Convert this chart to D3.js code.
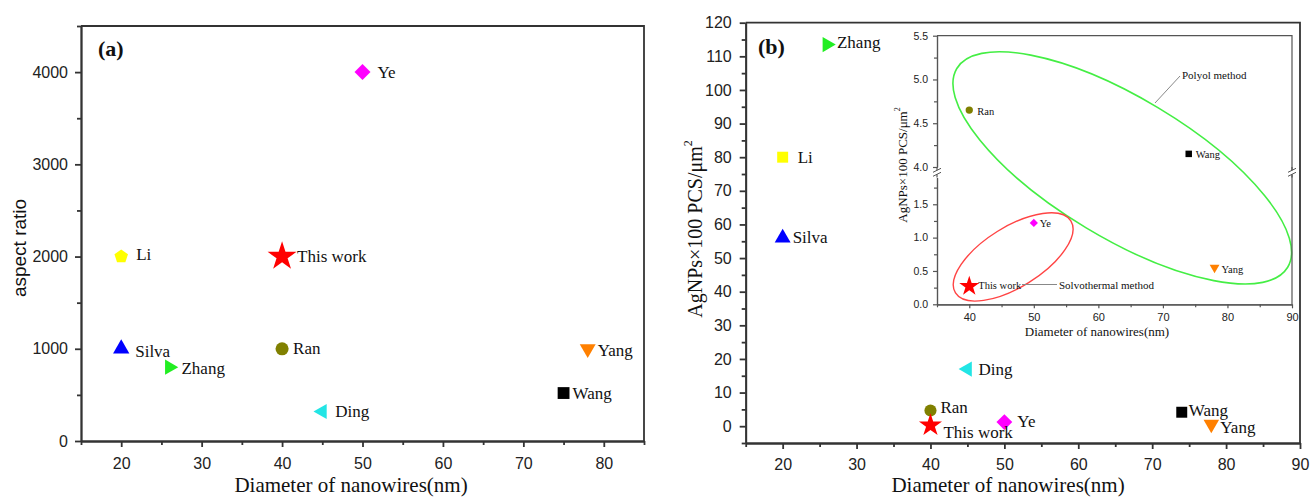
<!DOCTYPE html>
<html>
<head>
<meta charset="utf-8">
<script src="https://cdn.jsdelivr.net/npm/d3@7"></script>
<style>
  body { margin: 0; background: #fff; }
  svg { display: block; }
  .serif { font-family: "Liberation Serif", "Times New Roman", serif; fill: #111; }
  .sans { font-family: "Liberation Sans", Arial, sans-serif; fill: #111; }
</style>
</head>
<body>
<div id="chart"></div>
<script>
// ---- data ----
var names = ["Li", "Silva", "Zhang", "Ran", "Ye", "Wang", "Yang", "Ding", "This work"];

// (a) aspect ratio vs diameter
var diameterA = [20, 20, 26, 40, 50, 75, 78, 45, 40];
var aspectRatio = [2000, 1000, 800, 1000, 4000, 520, 1000, 320, 2000];

// (b) AgNPs density vs diameter
var diameterB = [20, 20, 26, 40, 50, 74, 78, 45, 40];
var density = [80, 56, 113.5, 4.65, 1.22, 4.15, 0.55, 17, 0.27];

// inset of (b)
var insetNames = ["Ran", "Wang", "Ye", "Yang", "This work"];
var insetDiameter = [40, 74, 50, 78, 40];
var insetDensity = [4.65, 4.15, 1.22, 0.55, 0.27];

var xTicksA = [20, 30, 40, 50, 60, 70, 80];
var xMinorA = [15, 25, 35, 45, 55, 65, 75, 85];
var yTicksA = [0, 1000, 2000, 3000, 4000];
var yMinorA = [500, 1500, 2500, 3500, 4500];

var xTicksB = [20, 30, 40, 50, 60, 70, 80, 90];
var xMinorB = [15, 25, 35, 45, 55, 65, 75, 85];
var yTicksB = [0, 10, 20, 30, 40, 50, 60, 70, 80, 90, 100, 110, 120];
var yMinorB = [-5, 5, 15, 25, 35, 45, 55, 65, 75, 85, 95, 105, 115];

var xTicksIn = [40, 50, 60, 70, 80, 90];
var xMinorIn = [35, 45, 55, 65, 75, 85];
var yTicksLow = [0, 0.5, 1.0, 1.5];
var yMinorLow = [0.25, 0.75, 1.25, 1.75];
var yTicksUp = [4.0, 4.5, 5.0, 5.5];
var yMinorUp = [4.25, 4.75, 5.25];

// ---- styling ----
var markerColor = {"Li": "#ffff00", "Silva": "#0000ff", "Zhang": "#22ee22", "Ran": "#808000",
  "Ye": "#ff00ff", "Wang": "#000000", "Yang": "#ff8000", "Ding": "#22e5e5", "This work": "#ff0000"};
var shapeA = {"Li": "pentagon", "Silva": "up", "Zhang": "right", "Ran": "circle", "Ye": "diamond",
  "Wang": "square", "Yang": "down", "Ding": "left", "This work": "star"};
var shapeB = Object.assign({}, shapeA, {"Li": "square"});

var sizeA = {pentagon: 120, up: 115, right: 100, down: 110, left: 100, circle: 135, square: 140, diamond: 128, star: 260};
var sizeB = {pentagon: 120, up: 110, right: 100, down: 105, left: 100, circle: 115, square: 120, diamond: 125, star: 165};
var sizeIn = {circle: 42, square: 42, diamond: 34, down: 42, star: 125};

// label offsets [dx, dy] from the marker
var labelPosA = {"Li": [15, -2], "Silva": [14, 3], "Zhang": [12, 1], "Ran": [11, 0], "Ye": [15, 0],
  "Wang": [9, 0], "Yang": [10, 2], "Ding": [13, 0], "This work": [15, 0]};
var labelPosB = {"Li": [15, 0], "Silva": [10, 0], "Zhang": [10, -2], "Ran": [10, -3], "Ye": [13, -1],
  "Wang": [7, -2], "Yang": [9, 3], "Ding": [11, 0], "This work": [13, 7]};
var labelPosIn = {"Ran": [8, 1], "Wang": [7, 1], "Ye": [6, 1], "Yang": [7, 2], "This work": [9, -1]};

var svg = d3.select("#chart").append("svg").attr("width", 1312).attr("height", 497);

var deg = Math.PI / 180;
function polygon(n, start) {
  return {draw: function(ctx, size) {
    var r = Math.sqrt(2 * size / (n * Math.sin(2 * Math.PI / n)));
    for (var i = 0; i < n; i++) {
      var a = start + i * 2 * Math.PI / n;
      if (i === 0) ctx.moveTo(r * Math.cos(a), r * Math.sin(a));
      else ctx.lineTo(r * Math.cos(a), r * Math.sin(a));
    }
    ctx.closePath();
  }};
}
var shapes = {
  up: polygon(3, -90 * deg), right: polygon(3, 0), down: polygon(3, 90 * deg), left: polygon(3, 180 * deg),
  square: polygon(4, -45 * deg), diamond: polygon(4, -90 * deg), pentagon: polygon(5, -90 * deg),
  circle: d3.symbolCircle, star: d3.symbolStar
};

function styleAxis(g, fontSize, width, color) {
  g.attr("color", color).attr("font-family", "Liberation Sans, Arial, sans-serif").attr("font-size", fontSize);
  g.selectAll("path, line").attr("stroke-width", width);
  g.selectAll("text").attr("fill", "#222");
}

function drawPoints(g, xs, ys, labels, x, y, shapeMap, sizeMap, pos, fontSize) {
  var pts = labels.map(function(n, i) { return {name: n, x: xs[i], y: ys[i]}; });
  g.append("g").selectAll("path").data(pts).enter().append("path")
    .attr("transform", function(d) { return "translate(" + x(d.x) + "," + y(d.y) + ")"; })
    .attr("d", function(d) { return d3.symbol().type(shapes[shapeMap[d.name]]).size(sizeMap[shapeMap[d.name]])(); })
    .attr("fill", function(d) { return markerColor[d.name]; });
  g.append("g").selectAll("text").data(pts).enter().append("text")
    .attr("class", "serif")
    .attr("x", function(d) { return x(d.x) + pos[d.name][0]; })
    .attr("y", function(d) { return y(d.y) + pos[d.name][1]; })
    .attr("dominant-baseline", "central")
    .attr("font-size", fontSize)
    .text(function(d) { return d.name; });
}

// ================= panel (a) =================
var ga = svg.append("g");
var xa = d3.scaleLinear().domain([15, 85]).range([81, 644]);
var ya = d3.scaleLinear().domain([0, 4500]).range([441, 26]);

ga.append("path").attr("d", "M81,26H644V441").attr("fill", "none").attr("stroke", "#333").attr("stroke-width", 1.8);

var axA = ga.append("g").attr("transform", "translate(0,441)")
  .call(d3.axisBottom(xa).tickValues(xTicksA).tickSize(6).tickSizeOuter(0).tickPadding(11));
styleAxis(axA, 16, 1.8, "#333");
var axAm = ga.append("g").attr("transform", "translate(0,441)")
  .call(d3.axisBottom(xa).tickValues(xMinorA).tickSize(4).tickSizeOuter(0).tickFormat(""));
styleAxis(axAm, 16, 1.8, "#333");
var ayA = ga.append("g").attr("transform", "translate(81,0)")
  .call(d3.axisLeft(ya).tickValues(yTicksA).tickSize(6).tickSizeOuter(0).tickPadding(7).tickFormat(d3.format("d")));
styleAxis(ayA, 16, 1.8, "#333");
var ayAm = ga.append("g").attr("transform", "translate(81,0)")
  .call(d3.axisLeft(ya).tickValues(yMinorA).tickSize(4).tickSizeOuter(0).tickFormat(""));
styleAxis(ayAm, 16, 1.8, "#333");

ga.append("text").attr("class", "serif").attr("x", 351).attr("y", 492).attr("text-anchor", "middle")
  .attr("font-size", 21).text("Diameter of nanowires(nm)");
ga.append("text").attr("class", "sans").attr("transform", "translate(19,248) rotate(-90)")
  .attr("text-anchor", "middle").attr("dominant-baseline", "central").attr("font-size", 19).text("aspect ratio");
ga.append("text").attr("class", "serif").attr("x", 98).attr("y", 56).attr("font-size", 22)
  .attr("font-weight", "bold").text("(a)");

drawPoints(ga, diameterA, aspectRatio, names, xa, ya, shapeA, sizeA, labelPosA, 17);

// ================= panel (b) =================
var gb = svg.append("g");
var xb = d3.scaleLinear().domain([15, 90]).range([745.7, 1300]);
var yb = d3.scaleLinear().domain([-5, 120]).range([443, 22.7]);

gb.append("path").attr("d", "M745.7,22.7H1300V443").attr("fill", "none").attr("stroke", "#333").attr("stroke-width", 1.8);

var axB = gb.append("g").attr("transform", "translate(0,443)")
  .call(d3.axisBottom(xb).tickValues(xTicksB).tickSize(6).tickSizeOuter(0).tickPadding(10));
styleAxis(axB, 16, 1.8, "#333");
var axBm = gb.append("g").attr("transform", "translate(0,443)")
  .call(d3.axisBottom(xb).tickValues(xMinorB).tickSize(4).tickSizeOuter(0).tickFormat(""));
styleAxis(axBm, 16, 1.8, "#333");
var ayB = gb.append("g").attr("transform", "translate(745.7,0)")
  .call(d3.axisLeft(yb).tickValues(yTicksB).tickSize(6).tickSizeOuter(0).tickPadding(8));
styleAxis(ayB, 16, 1.8, "#333");
var ayBm = gb.append("g").attr("transform", "translate(745.7,0)")
  .call(d3.axisLeft(yb).tickValues(yMinorB).tickSize(4).tickSizeOuter(0).tickFormat(""));
styleAxis(ayBm, 16, 1.8, "#333");

gb.append("text").attr("class", "serif").attr("x", 1008).attr("y", 492).attr("text-anchor", "middle")
  .attr("font-size", 21).text("Diameter of nanowires(nm)");
gb.append("text").attr("class", "serif").attr("transform", "translate(695,229) rotate(-90)")
  .attr("text-anchor", "middle").attr("dominant-baseline", "central").attr("font-size", 20)
  .html("AgNPs×100 PCS/μm<tspan baseline-shift='super' font-size='12'>2</tspan>");
gb.append("text").attr("class", "serif").attr("x", 758).attr("y", 54).attr("font-size", 22)
  .attr("font-weight", "bold").text("(b)");

drawPoints(gb, diameterB, density, names, xb, yb, shapeB, sizeB, labelPosB, 17);

// ================= inset =================
var gi = svg.append("g");
gi.append("rect").attr("x", 886).attr("y", 24.5).attr("width", 413).attr("height", 320).attr("fill", "#fff");

var xi = d3.scaleLinear().domain([35, 90]).range([937, 1292]);
var yUp = d3.scaleLinear().domain([4.0, 5.5]).range([167, 35.7]);
var yLow = d3.scaleLinear().domain([0, 1.9]).range([304.3, 177.6]);
function yIn(v) { return v >= 3 ? yUp(v) : yLow(v); }

// ellipses (centre in data units, radii in px)
gi.append("ellipse").attr("cx", xi(63.7)).attr("cy", yUp(3.99)).attr("rx", 193).attr("ry", 70)
  .attr("transform", "rotate(31," + xi(63.7) + "," + yUp(3.99) + ")")
  .attr("fill", "none").attr("stroke", "#44ee44").attr("stroke-width", 1.6);
gi.append("ellipse").attr("cx", xi(46.8)).attr("cy", yLow(0.71)).attr("rx", 68).attr("ry", 30)
  .attr("transform", "rotate(-32," + xi(46.8) + "," + yLow(0.71) + ")")
  .attr("fill", "none").attr("stroke", "#ff4444").attr("stroke-width", 1.4);

gi.append("path").attr("d", "M937,35.7H1292V304.3").attr("fill", "none").attr("stroke", "#555").attr("stroke-width", 1.2);

var axI = gi.append("g").attr("transform", "translate(0,304.3)")
  .call(d3.axisBottom(xi).tickValues(xTicksIn).tickSize(4).tickSizeOuter(0).tickPadding(5));
styleAxis(axI, 11, 1.2, "#555");
var axIm = gi.append("g").attr("transform", "translate(0,304.3)")
  .call(d3.axisBottom(xi).tickValues(xMinorIn).tickSize(3).tickSizeOuter(0).tickFormat(""));
styleAxis(axIm, 11, 1.2, "#555");
var ayLow = gi.append("g").attr("transform", "translate(937,0)")
  .call(d3.axisLeft(yLow).tickValues(yTicksLow).tickSize(4).tickSizeOuter(0).tickPadding(5).tickFormat(d3.format(".1f")));
styleAxis(ayLow, 10.5, 1.2, "#555");
var ayLowM = gi.append("g").attr("transform", "translate(937,0)")
  .call(d3.axisLeft(yLow).tickValues(yMinorLow).tickSize(3).tickSizeOuter(0).tickFormat(""));
styleAxis(ayLowM, 10.5, 1.2, "#555");
var ayUp = gi.append("g").attr("transform", "translate(937,0)")
  .call(d3.axisLeft(yUp).tickValues(yTicksUp).tickSize(4).tickSizeOuter(0).tickPadding(5).tickFormat(d3.format(".1f")));
styleAxis(ayUp, 10.5, 1.2, "#555");
var ayUpM = gi.append("g").attr("transform", "translate(937,0)")
  .call(d3.axisLeft(yUp).tickValues(yMinorUp).tickSize(3).tickSizeOuter(0).tickFormat(""));
styleAxis(ayUpM, 10.5, 1.2, "#555");

// axis line across the gap and break marks
[937, 1292].forEach(function(bx) {
  gi.append("line").attr("x1", bx).attr("x2", bx).attr("y1", yUp(4.0)).attr("y2", yLow(1.9))
    .attr("stroke", "#555").attr("stroke-width", 1.2);
  var by = (yUp(4.0) + yLow(1.9)) / 2;
  gi.append("rect").attr("x", bx - 2).attr("y", by - 2).attr("width", 4).attr("height", 4).attr("fill", "#fff");
  [-2, 2].forEach(function(o) {
    gi.append("line").attr("x1", bx - 4).attr("y1", by + o + 2).attr("x2", bx + 4).attr("y2", by + o - 2)
      .attr("stroke", "#555").attr("stroke-width", 1);
  });
});

gi.append("text").attr("class", "serif").attr("x", 1097).attr("y", 336).attr("text-anchor", "middle")
  .attr("font-size", 13).attr("fill", "#333").text("Diameter of nanowires(nm)");
gi.append("text").attr("class", "serif").attr("transform", "translate(902,165) rotate(-90)")
  .attr("text-anchor", "middle").attr("dominant-baseline", "central").attr("font-size", 13).attr("fill", "#333")
  .html("AgNPs×100 PCS/μm<tspan baseline-shift='super' font-size='8'>2</tspan>");

// annotations
gi.append("line").attr("x1", 1155).attr("y1", 103).attr("x2", 1180).attr("y2", 76)
  .attr("stroke", "#888").attr("stroke-width", 1);
gi.append("text").attr("class", "serif").attr("x", 1182).attr("y", 79).attr("font-size", 11)
  .attr("fill", "#333").text("Polyol method");
gi.append("line").attr("x1", 1022).attr("y1", 284.5).attr("x2", 1057).attr("y2", 284.5)
  .attr("stroke", "#888").attr("stroke-width", 1);
gi.append("text").attr("class", "serif").attr("x", 1059).attr("y", 284.5).attr("dominant-baseline", "central")
  .attr("font-size", 11).attr("fill", "#333").text("Solvothermal method");

drawPoints(gi, insetDiameter, insetDensity, insetNames, xi, yIn, shapeB, sizeIn, labelPosIn, 10.5);
</script>
</body>
</html>
